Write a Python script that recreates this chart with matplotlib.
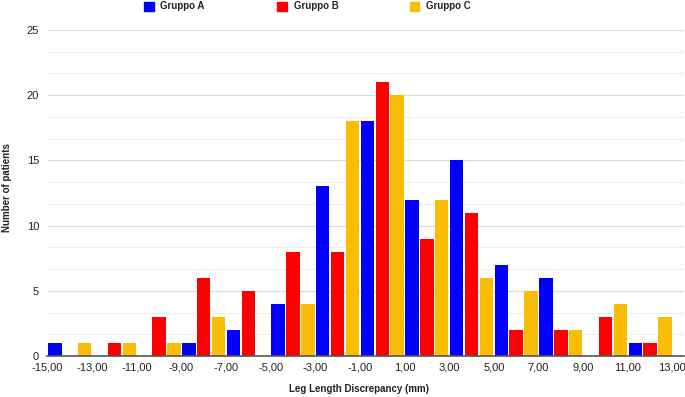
import matplotlib
matplotlib.use("Agg")
import matplotlib.pyplot as plt
from matplotlib.patches import Rectangle
from matplotlib.ticker import MultipleLocator
import numpy as np

plt.rcParams['font.family'] = ['Liberation Sans', 'DejaVu Sans']

# Bin centers (mm)
bins = [-14, -12, -10, -8, -6, -4, -2, 0, 2, 4, 6, 8, 10, 12]
gruppo_a = [1, 0, 0, 1, 2, 4, 13, 18, 12, 15, 7, 6, 0, 1]
gruppo_b = [0, 1, 3, 6, 5, 8, 8, 21, 9, 11, 2, 2, 3, 1]
gruppo_c = [1, 1, 1, 3, 0, 4, 18, 20, 12, 6, 5, 2, 4, 3]
series_names = ["Gruppo A", "Gruppo B", "Gruppo C"]
colors = ["#0000ff", "#ff0000", "#fbbc04"]
xticks = [-15, -13, -11, -9, -7, -5, -3, -1, 1, 3, 5, 7, 9, 11, 13]
xtick_labels = ["-15,00", "-13,00", "-11,00", "-9,00", "-7,00", "-5,00", "-3,00",
                "-1,00", "1,00", "3,00", "5,00", "7,00", "9,00", "11,00", "13,00"]

fig = plt.figure(figsize=(6.85, 3.97), dpi=100)
ax = fig.add_axes([47.5/685, 1-356/397, (684-47.5)/685, (356-30)/397])

x = np.array(bins, dtype=float)
step = 2/3
width = 0.6
for i, (vals, c) in enumerate(zip([gruppo_a, gruppo_b, gruppo_c], colors)):
    ax.bar(x + (i-1)*step, vals, width=width, color=c, zorder=3, linewidth=0)

ax.set_xlim(-15, 13.52)
ax.set_ylim(0, 25)
ax.set_yticks([0, 5, 10, 15, 20, 25])
ax.yaxis.set_minor_locator(MultipleLocator(5/3))
ax.grid(axis='y', which='major', color='#dcdcdc', linewidth=0.9, zorder=0)
ax.grid(axis='y', which='minor', color='#eeeeee', linewidth=0.8, zorder=0)
ax.set_xticks(xticks)
ax.set_xticklabels(xtick_labels)
ax.tick_params(axis='both', which='both', length=0)
ax.tick_params(axis='both', which='major', labelsize=8, colors='#222222')
ax.tick_params(axis='x', pad=5)
ax.tick_params(axis='y', pad=6)
for s in ['top', 'right', 'left']:
    ax.spines[s].set_visible(False)
ax.spines['bottom'].set_color('#555555')
ax.spines['bottom'].set_linewidth(1.2)
ax.spines['bottom'].set_zorder(4)

ax.set_xlabel("Leg Length Discrepancy (mm)", fontsize=7, fontweight='bold',
              color='#222222', va='center')
ax.xaxis.set_label_coords((359-47.5)/(684-47.5), -(389-356)/(356-30))
ax.set_ylabel("Number of patients", fontsize=7, fontweight='bold',
              color='#222222', va='center')
ax.yaxis.set_label_coords(-(47.5-7)/(684-47.5), (356-188)/(356-30))

# Legend at top
leg_sq_x = [144, 277, 409.5]
leg_tx_x = [160.5, 293.5, 426]
for sx, tx, name, c in zip(leg_sq_x, leg_tx_x, series_names, colors):
    fig.patches.append(Rectangle((sx/685, 1-10.5/397), 9.5/685, 8.5/397,
                                 transform=fig.transFigure, color=c, figure=fig))
    fig.text(tx/685, 1-6.3/397, name, fontsize=7, fontweight='bold',
             color='#222222', va='center', ha='left')

fig.savefig("out.png", dpi=100)
